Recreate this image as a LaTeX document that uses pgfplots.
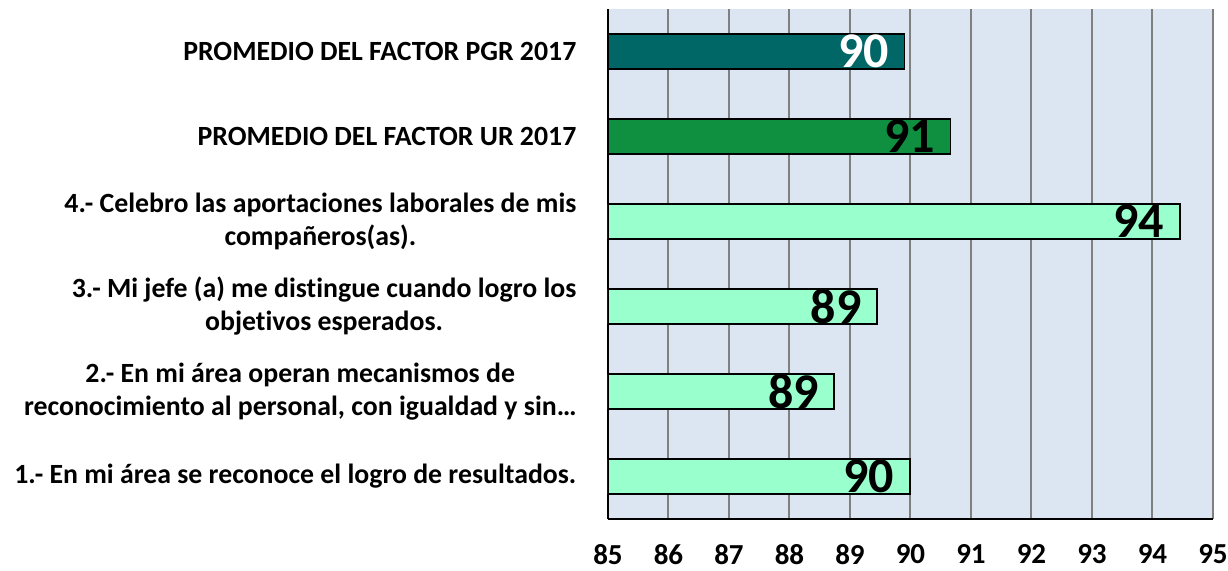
\documentclass[border=0pt]{standalone}
\usepackage{pgfplots}
\pgfplotsset{compat=1.18}
\usepackage{fontspec}
\setmainfont[Ligatures=NoCommon]{Carlito}
\definecolor{bgc}{HTML}{DCE6F2}
\definecolor{gridc}{HTML}{808080}
\definecolor{tealc}{HTML}{006666}
\definecolor{greenc}{HTML}{0E9040}
\definecolor{mintc}{HTML}{99FFCC}
\begin{document}
\begin{tikzpicture}
\useasboundingbox (-304pt,-25.5pt) rectangle (310pt,259.5pt);
\begin{axis}[
  at={(0,0)}, anchor=south west,
  xbar, scale only axis, width=302.5pt, height=255pt,
  xmin=85, xmax=95, ymin=-0.5, ymax=5.5,
  xtick={85,86,...,95}, ytick={0,1,2,3,4,5},
  yticklabels={
    {1.- En mi área se reconoce el logro de resultados.},
    {2.- En mi área operan mecanismos de\\reconocimiento al personal, con igualdad y sin…},
    {3.- Mi jefe (a) me distingue cuando logro los\\objetivos esperados.},
    {4.- Celebro las aportaciones laborales de mis\\compañeros(as).},
    {PROMEDIO DEL FACTOR UR 2017},
    {PROMEDIO DEL FACTOR PGR 2017}},
  yticklabel style={align=center, font=\bfseries\fontsize{13.9}{16.5}\selectfont, xshift=-8pt},
  xticklabel style={font=\bfseries\fontsize{14.5}{16}\selectfont, yshift=-11.5pt, inner sep=1pt},
  /pgf/number format/assume math mode=true,
  bar width=17.5pt, bar shift=0pt,
  xmajorgrids, grid style={draw=gridc, line width=1pt},
  axis background/.style={fill=bgc},
  axis x line*=bottom, axis y line*=left,
  axis line style={black, line width=1pt, -},
  tick style={draw=none},
  point meta=explicit symbolic,
  nodes near coords,
  every node near coord/.append style={anchor=east, xshift=-4pt, font=\bfseries\fontsize{25}{26}\selectfont},
]
\addplot[fill=tealc, draw=black, line width=0.9pt, every node near coord/.append style={text=white}]
  coordinates {(89.9,5) [90]};
\addplot[fill=greenc, draw=black, line width=0.9pt]
  coordinates {(90.66,4) [91]};
\addplot[fill=mintc, draw=black, line width=0.9pt]
  coordinates {(94.45,3) [94] (89.45,2) [89] (88.74,1) [89] (89.99,0) [90]};
\end{axis}
\end{tikzpicture}
\end{document}
